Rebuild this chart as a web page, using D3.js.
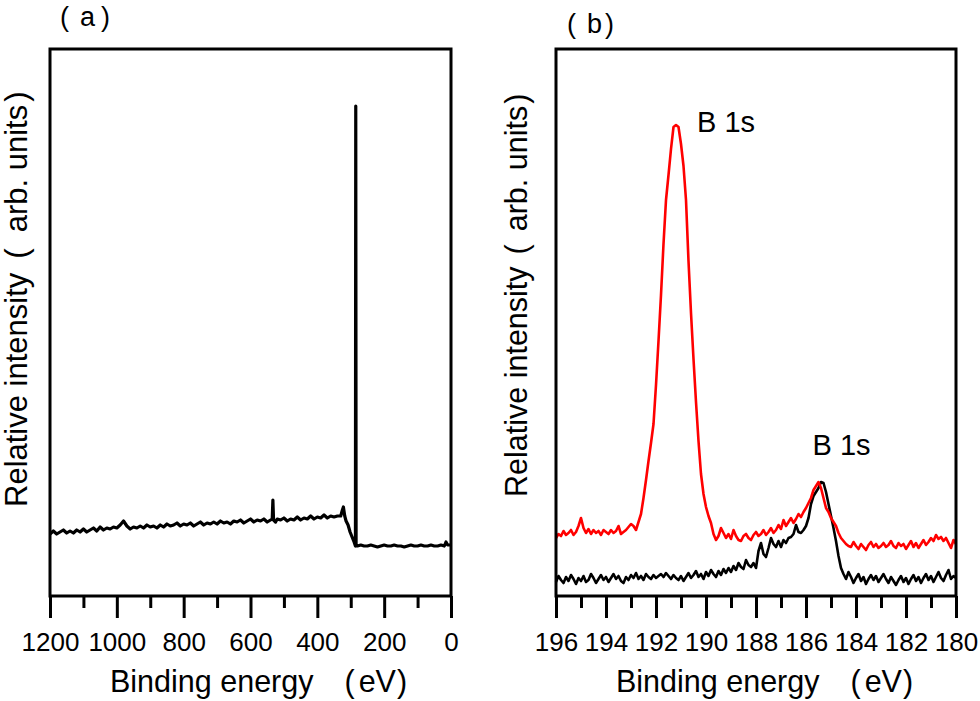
<!DOCTYPE html>
<html>
<head>
<meta charset="utf-8">
<script src="https://cdn.jsdelivr.net/npm/d3@7"></script>
<style>
  body { margin: 0; background: #fff; }
  text { font-family: "Liberation Sans", Arial, sans-serif; fill: #000; }
</style>
</head>
<body>
<div id="chart"></div>
<script>
// ---- data (intensity in arbitrary units) ----

// (a) survey spectrum
var surveyEnergy = [
  1200,1190,1180,1170,1160,1150,1140,1130,1120,1110,
  1100,1090,1080,1070,1060,1050,1040,1030,1020,1010,
  1000,990,980,970,960,950,940,930,920,910,
  900,890,880,870,860,850,840,830,820,810,
  800,790,780,770,760,750,740,730,720,710,
  700,690,680,670,660,650,640,630,620,610,
  600,590,580,570,560,550,
  540,535,533,531,525,520,
  510,500,490,480,470,460,450,440,430,420,410,400,390,380,370,360,350,340,
  330,325,322,318,314,308,302,296,290,287,286,285,284,280,
  270,260,250,240,230,220,210,200,190,180,170,160,150,140,130,120,110,100,90,80,70,60,50,40,30,
  20,15,10,5,0
];
var surveyIntensity = [
  62,65,62,64,66,63,65,63,66,64,
  67,64,66,68,65,69,66,68,67,69,
  68,71,75,70,67,69,68,70,68,71,
  69,70,68,71,69,72,70,71,73,70,
  72,71,73,70,72,74,71,73,72,74,
  72,75,73,74,72,75,74,76,73,75,
  77,74,76,75,77,74,
  76,77,96,76,74,77,
  76,78,75,77,76,79,76,78,77,80,77,79,78,81,78,80,79,80,
  80,86,89,80,75,71,64,59,54,51,50,490,50,50,
  51,50,50,51,50,49,50,51,50,50,51,50,50,49,50,51,50,50,51,50,50,51,50,50,51,
  50,54,51,51,51
];

// (b) B 1s region, 196.0 -> 180.0 eV every 0.1 eV
var bStart = 196, bStep = 0.1, bCount = 161;
var redIntensity = [
  58,62,60,65,61,63,66,61,64,70,       // 196.0-195.1
  78,68,63,67,62,66,63,65,61,66,       // 195.0-194.1
  64,62,66,63,65,70,62,64,66,69,       // 194.0-193.1
  72,70,66,74,82,98,116,135,153,172,   // 193.0-192.1
  211,255,301,352,396,421,447,469,471,469, // 192.0-191.1
  452,430,396,335,283,237,194,155,122,102, // 191.0-190.1
  89,80,73,62,56,60,68,63,58,62,       // 190.0-189.1
  57,66,60,56,55,60,62,58,56,61,       // 189.0-188.1
  64,60,62,66,61,64,68,63,66,71,       // 188.0-187.1
  67,76,70,74,78,73,77,82,79,84,       // 187.0-186.1
  88,93,98,106,110,114,108,98,88,84,   // 186.0-185.1
  78,74,70,63,58,55,52,50,49,54,       // 185.0-184.1
  50,47,52,49,46,51,54,49,52,48,       // 184.0-183.1
  50,53,49,51,55,50,48,53,50,52,       // 183.0-182.1
  47,51,55,49,53,48,52,56,51,54,       // 182.0-181.1
  58,55,61,57,59,55,58,53,48,56,       // 181.0-180.1
  52                                   // 180.0
];
var blackIntensity = [
  14,20,16,13,19,15,21,17,12,18,       // 196.0-195.1
  15,20,14,16,22,18,13,17,21,16,       // 195.0-194.1
  19,14,18,22,17,20,15,13,19,16,       // 194.0-193.1
  21,18,23,17,20,16,22,19,17,21,       // 193.0-192.1
  18,20,22,19,23,20,17,21,18,16,       // 192.0-191.1
  20,15,19,23,18,21,25,19,22,17,       // 191.0-190.1
  24,20,26,22,19,25,21,27,23,28,       // 190.0-189.1
  24,30,26,33,29,27,36,31,29,33,       // 189.0-188.1
  28,45,53,42,39,48,58,52,49,55,       // 188.0-187.1
  49,56,53,58,59,62,71,64,63,66,       // 187.0-186.1
  70,78,92,100,104,108,114,113,104,92, // 186.0-185.1
  80,68,55,40,28,22,17,24,19,13,       // 185.0-184.1
  18,22,15,19,12,17,21,16,20,14,       // 184.0-183.1
  18,22,17,13,19,15,11,16,20,14,       // 183.0-182.1
  18,12,17,21,15,19,13,18,22,16,       // 182.0-181.1
  20,14,19,24,18,15,21,26,17,20,       // 181.0-180.1
  18                                   // 180.0
];

var aMajorTicks = [1200, 1000, 800, 600, 400, 200, 0];
var aMinorTicks = [1100, 900, 700, 500, 300, 100];
var bMajorTicks = [196, 194, 192, 190, 188, 186, 184, 182, 180];
var bMinorTicks = [195, 193, 191, 189, 187, 185, 183, 181];

// ---- layout ----
var svgWidth = 980, svgHeight = 701;
var top_ = 49, bottom_ = 596;

var svg = d3.select("#chart").append("svg")
  .attr("width", svgWidth)
  .attr("height", svgHeight);

var y = d3.scaleLinear().domain([0, 547]).range([bottom_, top_]);

var line = function (xs) {
  return d3.line()
    .x(function (d) { return xs(d[0]); })
    .y(function (d) { return y(d[1]); });
};

// text with wide-spaced brackets: parts = [[text, dx], ...]
function spaced(sel, parts) {
  parts.forEach(function (p) {
    sel.append("tspan").attr("dx", p[1]).text(p[0]);
  });
}

function drawPanel(opts) {
  var x = d3.scaleLinear().domain(opts.domain).range([opts.left, opts.right]);
  var g = svg.append("g");

  // minor ticks
  g.append("g")
    .attr("transform", "translate(0," + bottom_ + ")")
    .call(d3.axisBottom(x).tickValues(opts.minor).tickSize(12).tickSizeOuter(0).tickFormat(""))
    .call(function (a) { a.select(".domain").remove(); })
    .selectAll("line").attr("stroke", "#000").attr("stroke-width", 3);

  // major ticks + labels
  g.append("g")
    .attr("transform", "translate(0," + bottom_ + ")")
    .call(d3.axisBottom(x).tickValues(opts.major).tickSize(22).tickSizeOuter(0)
      .tickPadding(15).tickFormat(d3.format("d")))
    .call(function (a) { a.select(".domain").remove(); })
    .call(function (a) {
      a.selectAll("line").attr("stroke", "#000").attr("stroke-width", 3);
      a.selectAll("text")
        .attr("font-size", 26)
        .style("font-family", "'Liberation Sans', Arial, sans-serif")
        .attr("fill", "#000");
    });

  // curves
  opts.series.forEach(function (s) {
    g.append("path")
      .datum(s.data)
      .attr("fill", "none")
      .attr("stroke", s.color)
      .attr("stroke-width", s.width)
      .attr("stroke-linejoin", "round")
      .attr("d", line(x));
  });

  // frame
  g.append("rect")
    .attr("x", opts.left)
    .attr("y", top_)
    .attr("width", opts.right - opts.left)
    .attr("height", bottom_ - top_)
    .attr("fill", "none")
    .attr("stroke", "#000")
    .attr("stroke-width", 3);

  // x title
  var xt = g.append("text")
    .attr("x", opts.left + 60)
    .attr("y", 692)
    .attr("font-size", 30.5);
  spaced(xt, [["Binding energy", 0], ["(", 31], ["eV", 4], [")", 1]]);

  // y title
  var yt = g.append("text")
    .attr("transform", "translate(" + opts.yTitleX + "," + opts.yTitleY + ")rotate(-90)")
    .attr("font-size", opts.yTitleSize);
  spaced(yt, [["Relative intensity", 0], ["(", opts.yGaps[0]], ["arb. units", opts.yGaps[1]], [")", opts.yGaps[2]]]);

  // panel letter
  var tg = g.append("text")
    .attr("x", opts.tagX)
    .attr("y", opts.tagY)
    .attr("font-size", 27);
  spaced(tg, [["(", 0], [opts.tag, 11], [")", opts.tagGap]]);

  return { g: g, x: x };
}

var surveyData = surveyEnergy.map(function (e, i) { return [e, surveyIntensity[i]]; });
var bEnergy = d3.range(bCount).map(function (i) { return +(bStart - i * bStep).toFixed(1); });
var redData = bEnergy.map(function (e, i) { return [e, redIntensity[i]]; });
var blackData = bEnergy.map(function (e, i) { return [e, blackIntensity[i]]; });

drawPanel({
  domain: [1200, 0], left: 50, right: 451,
  major: aMajorTicks, minor: aMinorTicks,
  series: [{ data: surveyData, color: "#000", width: 3.2 }],
  yTitleX: 27, yTitleY: 507, yTitleSize: 31, yGaps: [14, 16, 3],
  tag: "a", tagX: 60, tagY: 26, tagGap: 6
});

var pb = drawPanel({
  domain: [196, 180], left: 556, right: 956,
  major: bMajorTicks, minor: bMinorTicks,
  series: [
    { data: blackData, color: "#000", width: 2.6 },
    { data: redData, color: "#ff0000", width: 2.6 }
  ],
  yTitleX: 527, yTitleY: 497, yTitleSize: 30.5, yGaps: [12, 13, 2],
  tag: "b", tagX: 567, tagY: 33, tagGap: 3
});

// peak labels
pb.g.append("text")
  .attr("x", pb.x(191.2) + 21)
  .attr("y", 132)
  .attr("font-size", 29)
  .text("B 1s");

pb.g.append("text")
  .attr("x", pb.x(185.5) - 6)
  .attr("y", 455)
  .attr("font-size", 29)
  .text("B 1s");
</script>
</body>
</html>
